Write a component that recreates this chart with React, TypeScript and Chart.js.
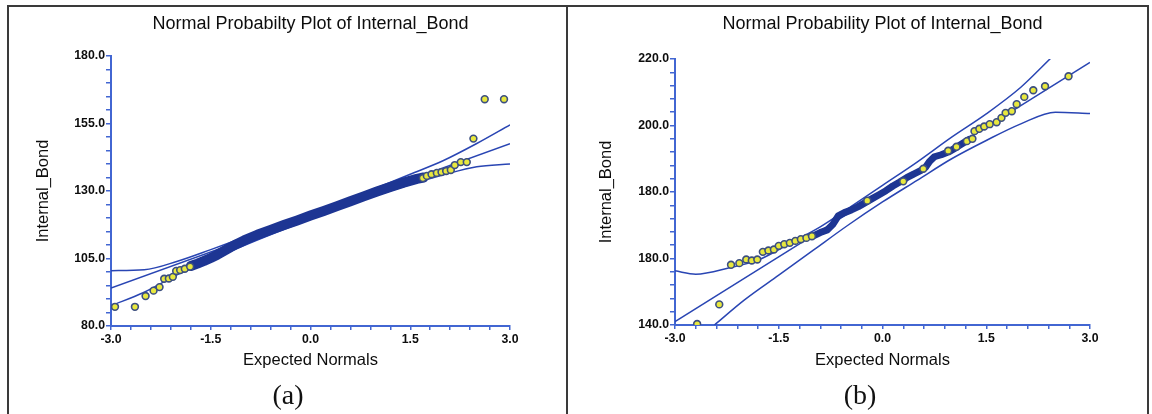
import React, { useEffect, useRef } from 'react';
import { Chart, registerables } from 'chart.js';

Chart.register(...registerables);

// ---------------- shared text ----------------
const titleA = 'Normal Probabilty Plot of Internal_Bond';
const titleB = 'Normal Probability Plot of Internal_Bond';
const xAxisTitle = 'Expected Normals';
const yAxisTitle = 'Internal_Bond';
const panelLabels = ['(a)', '(b)'];

// ---------------- axes ----------------
const xRange: [number, number] = [-3, 3];
const xTickLabels = ['-3.0', '-1.5', '0.0', '1.5', '3.0'];
const yRangeA: [number, number] = [80, 180];
const yTickLabelsA = ['80.0', '105.0', '130.0', '155.0', '180.0'];
const yRangeB: [number, number] = [140, 220];
const yTickLabelsB = ['140.0', '180.0', '180.0', '200.0', '220.0'];

type P = [number, number];

// ---------------- panel (a) data ----------------
// individually visible observations (expected normal, value)
const pointsA: P[] = [
  [-2.94, 87.1], [-2.64, 87.1], [-2.48, 91.1], [-2.36, 93.1], [-2.27, 94.4],
  [-2.2, 97.5], [-2.13, 97.6], [-2.07, 98.2], [-2.02, 100.4], [-1.96, 100.7],
  [-1.89, 101.2], [-1.81, 102.0],
  [1.69, 134.8], [1.75, 135.6], [1.82, 136.2], [1.9, 136.7], [1.97, 137.0],
  [2.04, 137.4], [2.11, 137.8], [2.17, 139.6], [2.26, 140.7], [2.35, 140.7],
  [2.45, 149.4], [2.62, 164.0], [2.91, 164.0],
];
// densely overlapping observations in the centre
const coreA: P[] = [
  [-1.8, 102.2], [-1.7, 103.1], [-1.6, 104.1], [-1.5, 105.2], [-1.4, 106.4],
  [-1.3, 107.8], [-1.2, 109.2], [-1.1, 110.5], [-1.0, 111.7], [-0.8, 113.8],
  [-0.6, 115.6], [-0.4, 117.4], [-0.2, 119.1], [0.0, 120.9], [0.2, 122.6],
  [0.4, 124.4], [0.6, 126.2], [0.8, 128.0], [1.0, 129.8], [1.2, 131.5],
  [1.4, 133.1], [1.6, 134.5], [1.7, 135.0],
];
const fitA: P[] = [[-3, 94.1], [3, 147.5]];
const upperA: P[] = [
  [-3, 100.5], [-2.5, 100.8], [-2, 104.0], [-1.5, 108.3], [-1, 112.8],
  [-0.5, 117.3], [0, 122.0], [0.5, 126.6], [1, 131.2], [1.5, 136.2],
  [2, 141.3], [2.5, 147.6], [3, 154.5],
];
const lowerA: P[] = [
  [-3, 87.5], [-2.5, 92.5], [-2, 99.0], [-1.5, 104.5], [-1, 109.8],
  [-0.5, 114.8], [0, 119.6], [0.5, 124.2], [1, 128.4], [1.5, 132.4],
  [2, 136.0], [2.5, 139.0], [3, 140.0],
];

// ---------------- panel (b) data ----------------
const pointsB: P[] = [
  [-2.68, 140.3], [-2.36, 146.2], [-2.19, 158.1], [-2.07, 158.6], [-1.97, 159.7],
  [-1.89, 159.4], [-1.81, 159.7], [-1.73, 162.0], [-1.65, 162.4], [-1.57, 162.7],
  [-1.5, 163.8], [-1.42, 164.3], [-1.34, 164.7], [-1.26, 165.3], [-1.18, 165.8],
  [-1.1, 166.2], [-1.02, 166.7],
  [-0.22, 177.4], [0.3, 183.2], [0.59, 187.0], [0.95, 192.4], [1.07, 193.6],
  [1.22, 195.3], [1.3, 196.0],
  [1.33, 198.3], [1.4, 199.0], [1.47, 199.7], [1.55, 200.4], [1.65, 201.0],
  [1.72, 202.3], [1.78, 203.8], [1.87, 204.3], [1.94, 206.4], [2.05, 208.6],
  [2.18, 210.6], [2.35, 211.8], [2.69, 214.8],
];
const coreB: P[] = [
  [-1.0, 166.8], [-0.9, 167.8], [-0.8, 168.6], [-0.72, 170.2], [-0.64, 172.8],
  [-0.55, 173.8], [-0.45, 174.6], [-0.35, 175.6], [-0.25, 176.8], [-0.15, 178.0],
  [-0.05, 179.2], [0.05, 180.4], [0.15, 181.8], [0.25, 183.0], [0.35, 184.3],
  [0.45, 185.4], [0.55, 186.4], [0.62, 187.4], [0.68, 189.2], [0.75, 190.6],
  [0.85, 191.2], [0.95, 192.0], [1.05, 193.2], [1.15, 194.5], [1.25, 195.8],
];
const fitB: P[] = [[-3, 141.0], [3, 219.0]];
const upperB: P[] = [
  [-3, 156.3], [-2.7, 155.3], [-2.2, 157.3], [-1.8, 159.5], [-1.3, 165.0],
  [-0.9, 169.5], [-0.5, 175.0], [0, 182.0], [0.5, 189.0], [1, 196.5],
  [1.5, 203.5], [2, 211.5], [2.45, 220.6],
];
const lowerB: P[] = [
  [-2.43, 140.0], [-2, 147.5], [-1.5, 155.0], [-1, 162.5], [-0.5, 170.0],
  [0, 177.0], [0.5, 183.5], [1, 190.0], [1.5, 195.5], [2, 200.5],
  [2.5, 204.0], [3, 203.6],
];

// ---------------- styling ----------------
const FONT = "'Liberation Sans', Arial, sans-serif";
const TEXT = '#0d0d0d';
const AXIS = '#4266d2';
const LINE = '#2945b3';
const CORE = '#1d3593';
const PT_FILL = '#e8e83e';
const PT_EDGE = '#3c4f80';

const toXY = (arr: P[]) => arr.map(([x, y]) => ({ x, y }));
const tickValues = (r: [number, number], n: number) =>
  Array.from({ length: n + 1 }, (_, i) => +(r[0] + (i * (r[1] - r[0])) / n).toFixed(6));

interface Spec {
  title: string;
  points: P[];
  core: P[];
  fit: P[];
  upper: P[];
  lower: P[];
  yRange: [number, number];
  yLabels: string[];
  coreWidth: number;
  yAxisWidth: number;
  xAxisHeight: number;
  padRight: number;
  titleTop: number;
  titleBottom: number;
  yTitlePad: number;
  xTitlePad: number;
}

function makeChart(canvas: HTMLCanvasElement, s: Spec) {
  const lineDs = (label: string, data: P[], mono: boolean) => ({
    label,
    data: toXY(data),
    showLine: true,
    borderColor: LINE,
    borderWidth: 1.5,
    pointRadius: 0,
    fill: false,
    cubicInterpolationMode: mono ? 'monotone' : 'default',
    order: 2,
  });
  return new Chart(canvas, {
    type: 'scatter',
    data: {
      datasets: [
        {
          label: 'Observed',
          data: toXY(s.points),
          pointRadius: 3.4,
          pointBorderWidth: 1.6,
          pointBackgroundColor: PT_FILL,
          pointBorderColor: PT_EDGE,
          showLine: false,
          order: 0,
        },
        {
          label: 'Dense observations',
          data: toXY(s.core),
          showLine: true,
          borderColor: CORE,
          borderWidth: s.coreWidth,
          borderCapStyle: 'round',
          borderJoinStyle: 'round',
          pointRadius: 0,
          fill: false,
          order: 1,
        },
        lineDs('Fit', s.fit, false),
        lineDs('Upper', s.upper, true),
        lineDs('Lower', s.lower, true),
      ] as any,
    },
    options: {
      animation: false,
      responsive: false,
      events: [],
      layout: { padding: { left: 0, right: s.padRight, top: 0, bottom: 0 } },
      plugins: {
        legend: { display: false },
        tooltip: { enabled: false },
        title: {
          display: true,
          text: s.title,
          fullSize: false,
          color: TEXT,
          font: { family: FONT, size: 18, weight: 'normal', lineHeight: 1.2 },
          padding: { top: s.titleTop, bottom: s.titleBottom },
        },
      },
      scales: {
        x: {
          type: 'linear',
          min: xRange[0],
          max: xRange[1],
          afterBuildTicks: (sc: any) => {
            sc.ticks = tickValues(xRange, 20).map((v) => ({ value: v }));
          },
          afterFit: (sc: any) => {
            sc.height = s.xAxisHeight;
          },
          ticks: {
            autoSkip: false,
            maxRotation: 0,
            padding: 2,
            color: TEXT,
            font: { family: FONT, size: 12.3, weight: 'bold' },
            callback: (_v: any, i: number) => (i % 5 === 0 ? xTickLabels[i / 5] : ''),
          },
          grid: { drawOnChartArea: false, drawTicks: true, tickLength: 4, color: AXIS, lineWidth: 1.5 },
          border: { display: true, color: AXIS, width: 2 },
          title: {
            display: true,
            text: xAxisTitle,
            color: TEXT,
            font: { family: FONT, size: 16.5, weight: 'normal', lineHeight: 1.2 },
            padding: { top: 0, bottom: s.xTitlePad },
          },
        },
        y: {
          type: 'linear',
          min: s.yRange[0],
          max: s.yRange[1],
          afterBuildTicks: (sc: any) => {
            sc.ticks = tickValues(s.yRange, 20).map((v) => ({ value: v }));
          },
          afterFit: (sc: any) => {
            sc.width = s.yAxisWidth;
          },
          ticks: {
            autoSkip: false,
            padding: 1,
            color: TEXT,
            font: { family: FONT, size: 12.3, weight: 'bold' },
            callback: (_v: any, i: number) => (i % 5 === 0 ? s.yLabels[i / 5] : ''),
          },
          grid: { drawOnChartArea: false, drawTicks: true, tickLength: 5, color: AXIS, lineWidth: 1.5 },
          border: { display: true, color: AXIS, width: 2 },
          title: {
            display: true,
            text: yAxisTitle,
            color: TEXT,
            font: { family: FONT, size: 16.5, weight: 'normal', lineHeight: 1.2 },
            padding: { top: s.yTitlePad, bottom: 0 },
          },
        },
      },
    } as any,
  });
}

const specA: Spec = {
  title: titleA,
  points: pointsA,
  core: coreA,
  fit: fitA,
  upper: upperA,
  lower: lowerA,
  yRange: yRangeA,
  yLabels: yTickLabelsA,
  coreWidth: 10,
  yAxisWidth: 111,
  xAxisHeight: 88,
  padRight: 58,
  titleTop: 13.2,
  titleBottom: 21.2,
  yTitlePad: 33.5,
  xTitlePad: 43.4,
};

const specB: Spec = {
  title: titleB,
  points: pointsB,
  core: coreB,
  fit: fitB,
  upper: upperB,
  lower: lowerB,
  yRange: yRangeB,
  yLabels: yTickLabelsB,
  coreWidth: 7,
  yAxisWidth: 107,
  xAxisHeight: 89,
  padRight: 62,
  titleTop: 13.2,
  titleBottom: 24.2,
  yTitlePad: 28.1,
  xTitlePad: 43.4,
};

function Panel({ spec, left, width }: { spec: Spec; left: number; width: number }) {
  const ref = useRef<HTMLCanvasElement | null>(null);
  useEffect(() => {
    if (!ref.current) return;
    const chart = makeChart(ref.current, spec);
    return () => chart.destroy();
  }, [spec]);
  return (
    <canvas
      ref={ref}
      width={width}
      height={414}
      style={{ position: 'absolute', left, top: 0, width, height: 414 }}
    />
  );
}

export default function App() {
  const frame = '#3a3a3a';
  const labelStyle = (cx: number): React.CSSProperties => ({
    position: 'absolute',
    left: cx - 40,
    width: 80,
    top: 378,
    textAlign: 'center',
    fontFamily: "'Liberation Serif', 'Times New Roman', serif",
    fontSize: 28,
    lineHeight: '34px',
    color: '#111',
  });
  return (
    <div
      style={{
        position: 'absolute',
        left: 0,
        top: 0,
        width: 1152,
        height: 414,
        background: '#ffffff',
        overflow: 'hidden',
      }}
    >
      <div
        style={{
          position: 'absolute',
          left: 7,
          top: 5,
          width: 1142,
          height: 430,
          border: `2px solid ${frame}`,
          boxSizing: 'border-box',
        }}
      />
      <div style={{ position: 'absolute', left: 566, top: 5, width: 2, height: 430, background: frame }} />
      <Panel spec={specA} left={0} width={568} />
      <Panel spec={specB} left={568} width={584} />
      <div style={labelStyle(288)}>{panelLabels[0]}</div>
      <div style={labelStyle(860)}>{panelLabels[1]}</div>
    </div>
  );
}
